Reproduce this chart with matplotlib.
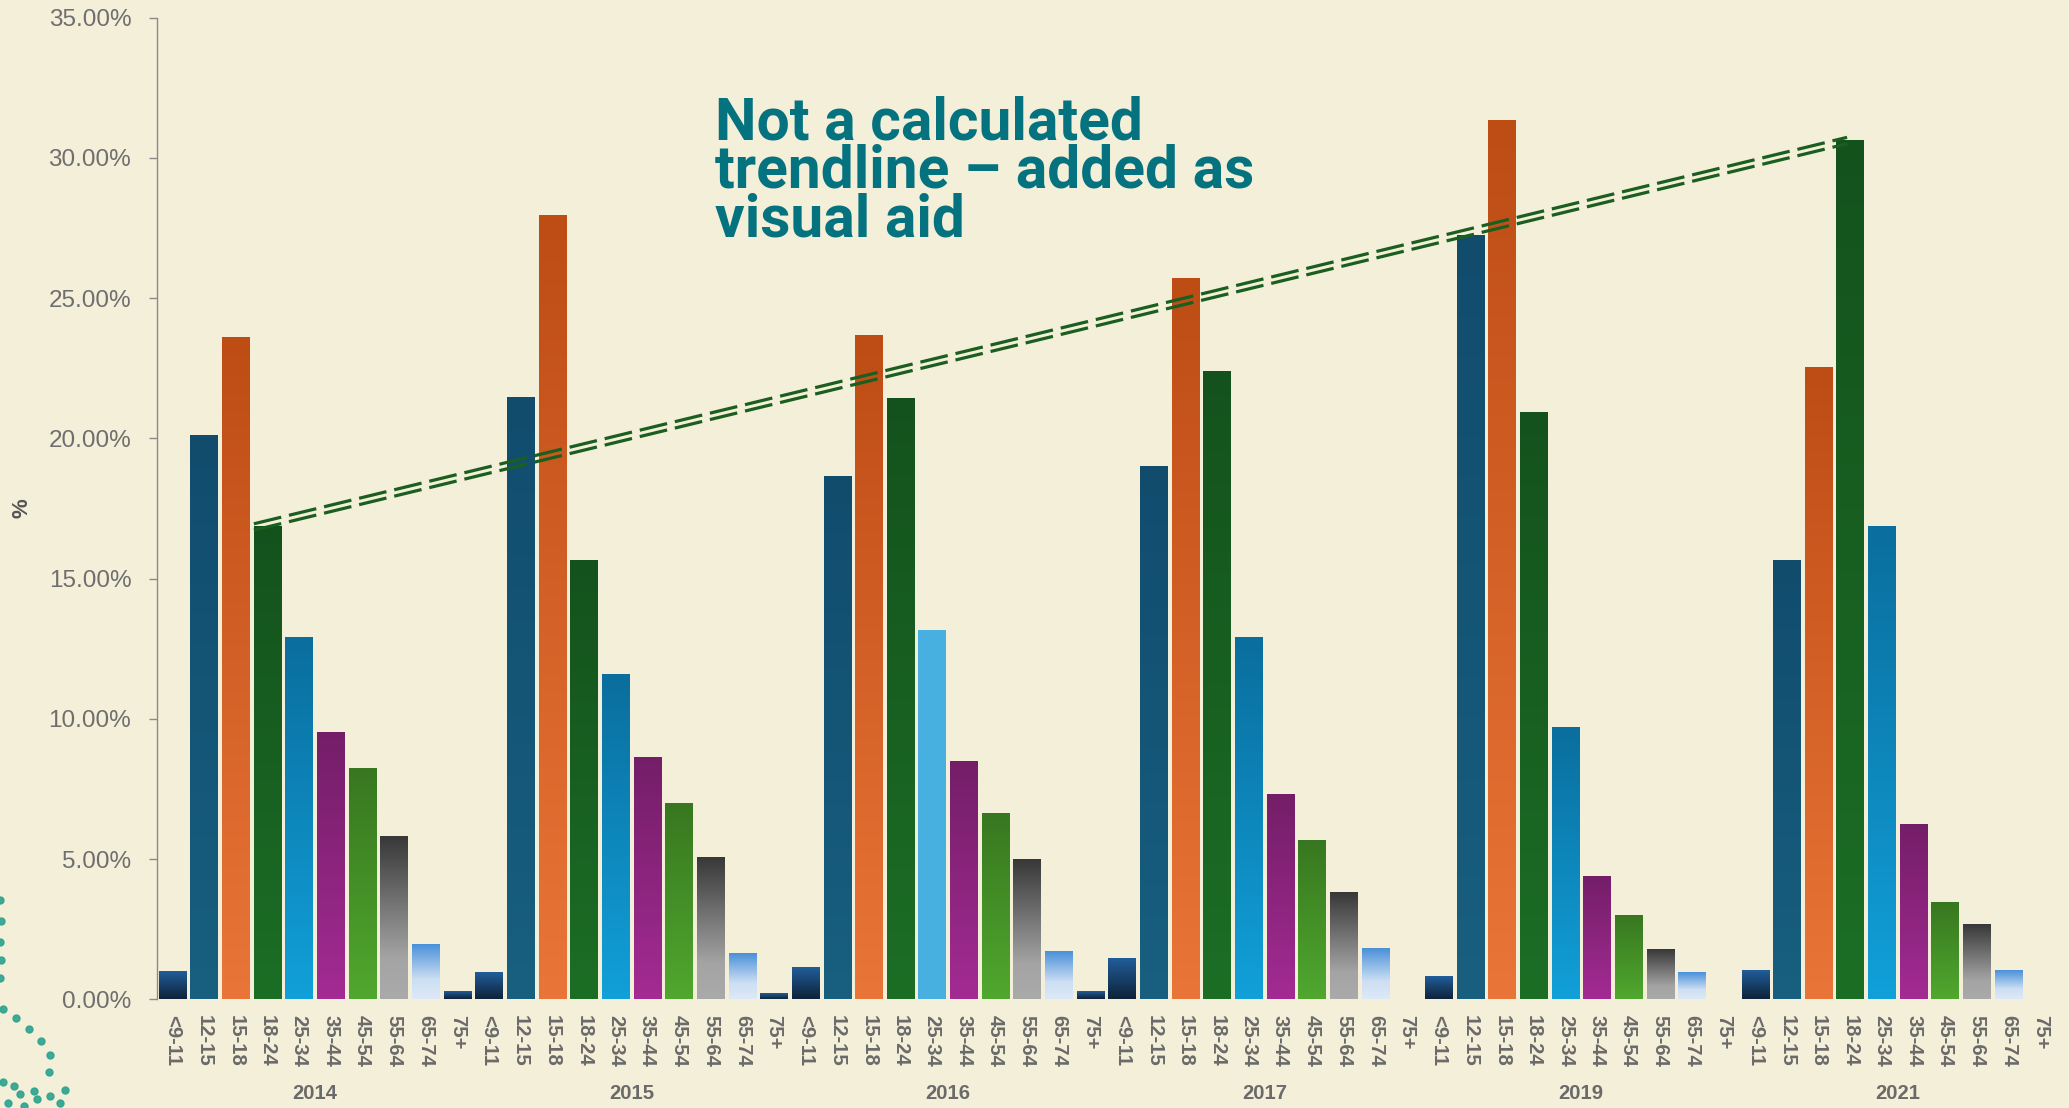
import numpy as np
import matplotlib
matplotlib.use("Agg")
import matplotlib.pyplot as plt
from matplotlib.colors import LinearSegmentedColormap
from matplotlib.transforms import offset_copy, blended_transform_factory

# data (percent of cases per age band)
ages = ["<9-11", "12-15", "15-18", "18-24", "25-34", "35-44", "45-54", "55-64", "65-74", "75+"]
years = ["2014", "2015", "2016", "2017", "2019", "2021"]
pct_2014 = [0.98, 20.08, 23.57, 16.84, 12.89, 9.49, 8.21, 5.79, 1.94, 0.26]
pct_2015 = [0.94, 21.45, 27.94, 15.62, 11.57, 8.61, 6.96, 5.03, 1.62, 0.20]
pct_2016 = [1.13, 18.63, 23.66, 21.40, 13.13, 8.46, 6.61, 4.97, 1.69, 0.26]
pct_2017 = [1.46, 19.00, 25.68, 22.39, 12.89, 7.29, 5.64, 3.81, 1.79, 0.00]
pct_2019 = [0.80, 27.23, 31.33, 20.93, 9.69, 4.37, 2.97, 1.76, 0.94, 0.00]
pct_2021 = [1.01, 15.62, 22.53, 30.62, 16.84, 6.21, 3.43, 2.65, 1.01, 0.00]
all_pct = [pct_2014, pct_2015, pct_2016, pct_2017, pct_2019, pct_2021]

# the "visual aid" line joins the 18-24 bars of the first and last year
trend_bars = [(0, "18-24"), (5, "18-24")]

note = "Not a calculated\ntrendline \u2013 added as\nvisual aid"

# colours: gradient stops from bottom (0) to top (1) for each age band
bg = "#f4efd8"
grads = {
    "<9-11": [(0, "#0e2238"), (1, "#215e9a")],
    "12-15": [(0, "#185f80"), (1, "#114c6d")],
    "15-18": [(0, "#ea7538"), (1, "#bd4c15")],
    "18-24": [(0, "#1c6e25"), (1, "#14521d")],
    "25-34": [(0, "#11a0d9"), (1, "#0a6e9e")],
    "35-44": [(0, "#a32b93"), (1, "#741e68")],
    "45-54": [(0, "#50a82e"), (1, "#387720")],
    "55-64": [(0, "#aaaaaa"), (0.25, "#a4a4a4"), (1, "#383838")],
    "65-74": [(0, "#dde9f6"), (0.35, "#cddff3"), (1, "#4a90da")],
    "75+":   [(0, "#0e2238"), (1, "#215e9a")],
}
highlight = {(2, "25-34"): "#48b0e0"}

W, H = 2069, 1108
fig = plt.figure(figsize=(W / 100, H / 100), dpi=100, facecolor=bg)
left, right, top, bottom = 156.7, 2056, 17.7, 999.3
ax = fig.add_axes([left / W, 1 - bottom / H, (right - left) / W, (bottom - top) / H])
ax.set_facecolor(bg)

heights = np.concatenate(all_pct)
xpos = np.arange(len(heights))
bars = ax.bar(xpos, heights, width=0.87, color="none", linewidth=0)

grad = np.linspace(0, 1, 256).reshape(-1, 1)
for i, rect in enumerate(bars):
    h = rect.get_height()
    if h <= 0:
        continue
    age = ages[i % len(ages)]
    key = (i // len(ages), age)
    stops = grads[age]
    if key in highlight:
        stops = [(0, highlight[key]), (1, highlight[key])]
    cmap = LinearSegmentedColormap.from_list("g", stops)
    x0 = rect.get_x()
    ax.imshow(grad, extent=(x0, x0 + rect.get_width(), 0, h), origin="lower",
              aspect="auto", cmap=cmap, interpolation="bilinear", zorder=2)

ax.set_xlim(-0.5, len(heights) - 0.5)
ax.set_ylim(0, 35)

# axes styling
for s in ["top", "right", "bottom"]:
    ax.spines[s].set_visible(False)
ax.spines["left"].set_color("#8a8a8a")
ax.spines["left"].set_linewidth(1)

ax.set_xticks(xpos)
ax.set_xticklabels(ages * len(years), rotation=-90, fontsize=14.6, fontweight="bold",
                   color="#6a6a6a", family="Liberation Sans")
ax.tick_params(axis="x", length=0, pad=11.5)

ax.set_yticks(np.arange(0, 36, 5))
ax.set_yticklabels([f"{v:.2f}%" for v in np.arange(0, 36, 5)], fontsize=17.5,
                   color="#6e6e6e", family="Liberation Sans")
ax.tick_params(axis="y", length=5.8, width=1, color="#8a8a8a", pad=12.5)

fig.text(21.7 / W, 1 - 508 / H, "%", rotation=90, ha="center", va="center",
         fontsize=16, fontweight="bold", color="#555555", family="Liberation Sans")

# year labels under each group
tr_year = blended_transform_factory(ax.transData, ax.transAxes)
for k, yr in enumerate(years):
    ax.text(k * len(ages) + (len(ages) - 1) / 2, -0.0955, yr, transform=tr_year,
            ha="center", va="center", fontsize=14.6, fontweight="bold",
            color="#6a6a6a", family="Liberation Sans")

# double dashed visual aid line
idx = [g * len(ages) + ages.index(a) for g, a in trend_bars]
tx = [xpos[idx[0]] - 0.43, xpos[idx[1]] - 0.1]
ty = [heights[idx[0]], heights[idx[1]]]
for dy in (3.2, -3.2):
    tr = offset_copy(ax.transData, fig=fig, x=0, y=dy, units="dots")
    ax.plot(tx, ty, transform=tr, color="#1a5e20", lw=2.3, dashes=(8.8, 2.5),
            dash_capstyle="butt", zorder=3)

fig.text(715 / W, 1 - 95 / H, note, ha="left", va="top", fontsize=42.3,
         fontweight="bold", family="Roboto", color="#05737f", linespacing=0.84)

# decorative dotted swirl in the lower left corner
swirl = [(0, 900), (1, 921), (0, 942), (1, 960), (0, 978), (3, 1009), (16, 1018),
         (29, 1029), (41, 1041), (50, 1055), (49, 1072), (65, 1090), (3, 1082),
         (14, 1086), (20, 1094), (34, 1091), (37, 1099), (50, 1096), (60, 1103),
         (8, 1103), (24, 1106)]
fig.add_artist(plt.Line2D([p[0] / W for p in swirl], [1 - p[1] / H for p in swirl],
                          transform=fig.transFigure, ls="none", marker="o",
                          ms=5, color="#2aa38f", alpha=0.9))

fig.savefig("out.png", dpi=100, facecolor=bg)
